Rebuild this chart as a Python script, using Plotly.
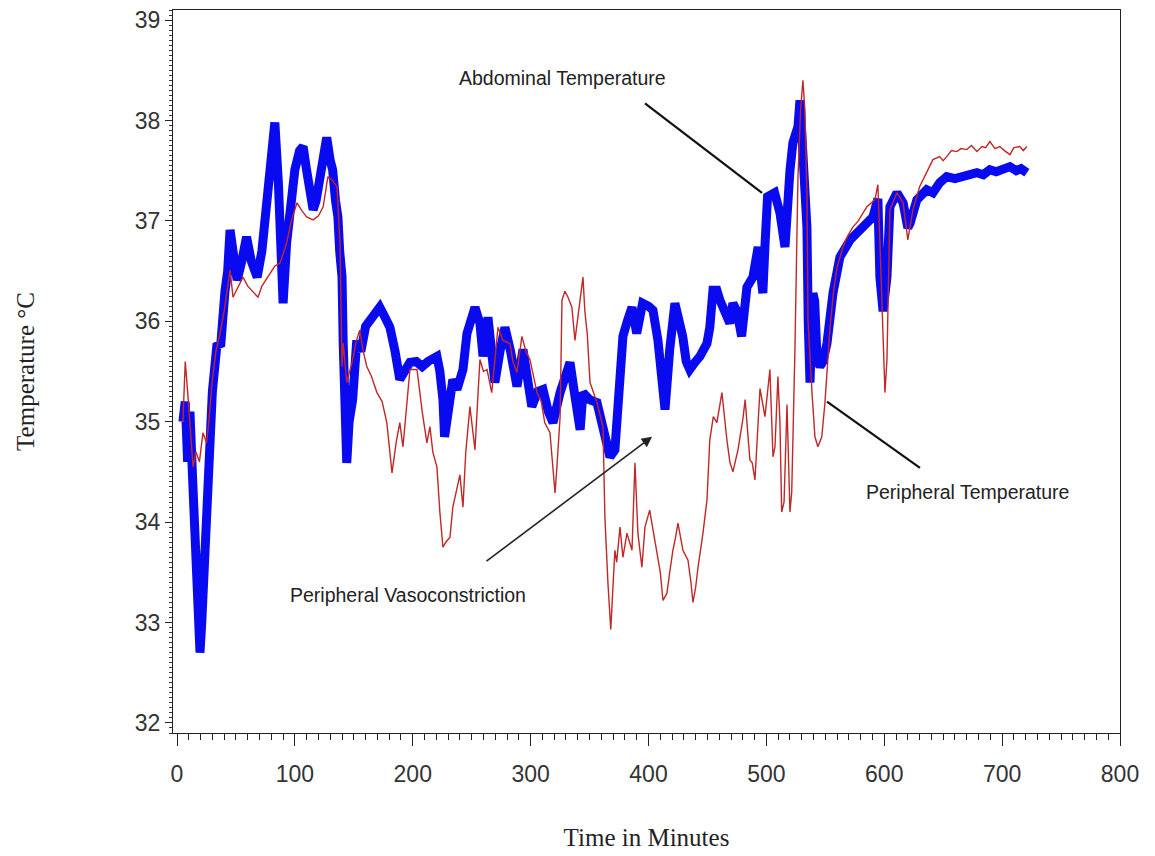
import plotly.graph_objects as go

# Abdominal temperature (thick blue)
abd_t = [5, 7, 9, 11, 13, 15, 17, 19.5, 21, 23, 25, 27, 30, 34, 37, 40.7, 43, 45, 48, 51, 55, 59, 63, 68, 72, 76, 80, 83, 86, 88, 90, 93, 97, 100, 104, 107, 110, 113, 115.5, 118, 121, 124, 127, 130, 132, 134.5, 136.5, 138, 140, 141, 142.5, 144, 146, 149, 152.5, 156, 160, 163.5, 168, 172, 176, 180.6, 185, 189, 193, 197.6, 203, 208, 213, 218, 220.5, 223, 225.6, 227, 230, 234, 237.5, 242.6, 246, 249, 252.8, 257, 259.6, 263.8, 266, 269.7, 274, 278.2, 283, 288.4, 293.5, 297, 301, 306, 310.5, 315, 319, 325, 329, 333.4, 337, 342, 344.4, 350, 356.3, 360, 364, 367.3, 371.5, 375.8, 378.3, 382, 386, 390, 395, 400, 403.8, 408, 411, 414, 418, 422.4, 426, 429, 432, 435, 440, 443.6, 449.6, 452, 454.7, 458, 460.6, 466.5, 469, 471.6, 475, 479, 483.5, 488.6, 493, 495, 497, 499, 501, 507, 511.5, 515.8, 518, 520, 522.5, 526.8, 528.5, 530, 531, 534.4, 535.5, 537, 539.5, 541, 543, 545.5, 548, 551.4, 556.5, 562.4, 571, 582, 590.4, 594.6, 596.3, 599, 600.6, 602.3, 604.8, 610.8, 616, 620, 622, 627.7, 636, 641.3, 647, 653, 660, 670, 678.6, 684, 689.6, 695, 700.7, 706.6, 712, 716, 721]
abd_v = [35.0, 35.2, 34.6, 35.1, 34.5, 34.0, 33.2, 32.7, 33.0, 33.6, 34.0, 34.6, 35.3, 35.78, 35.75, 36.3, 36.5, 36.91, 36.6, 36.41, 36.6, 36.84, 36.6, 36.44, 36.7, 37.11, 37.6, 37.98, 37.38, 36.6, 36.18, 36.78, 37.3, 37.51, 37.7, 37.74, 37.5, 37.31, 37.11, 37.2, 37.44, 37.6, 37.83, 37.6, 37.51, 37.2, 37.04, 36.7, 36.44, 35.78, 35.3, 34.59, 35.0, 35.22, 35.81, 35.7, 35.95, 36.01, 36.1, 36.14, 36.05, 35.94, 35.7, 35.42, 35.5, 35.59, 35.6, 35.55, 35.6, 35.62, 35.65, 35.5, 35.22, 34.85, 35.1, 35.42, 35.32, 35.52, 35.88, 36.0, 36.14, 35.98, 35.65, 36.04, 35.8, 35.39, 35.7, 35.94, 35.7, 35.35, 35.72, 35.4, 35.15, 35.3, 35.32, 35.1, 34.99, 35.29, 35.45, 35.59, 35.3, 34.92, 35.29, 35.22, 35.19, 35.0, 34.8, 34.65, 34.72, 35.39, 35.85, 36.0, 36.14, 35.88, 36.18, 36.15, 36.11, 35.81, 35.4, 35.12, 35.72, 36.18, 36.0, 35.85, 35.6, 35.52, 35.6, 35.65, 35.78, 35.94, 36.31, 36.31, 36.21, 36.04, 35.98, 36.18, 36.1, 35.85, 36.34, 36.44, 36.74, 36.5, 36.28, 36.8, 37.24, 37.28, 37.08, 36.74, 37.28, 37.5, 37.78, 37.94, 38.2, 37.9, 37.54, 36.94, 36.0, 35.39, 36.28, 36.2, 35.62, 35.55, 35.6, 35.78, 36.28, 36.64, 36.81, 36.94, 37.04, 37.22, 36.44, 36.1, 36.3, 36.44, 37.14, 37.28, 37.18, 36.93, 36.98, 37.21, 37.31, 37.28, 37.38, 37.44, 37.42, 37.44, 37.48, 37.46, 37.51, 37.49, 37.51, 37.54, 37.5, 37.52, 37.48]

# Peripheral temperature (thin red)
per_t = [5, 7, 9, 11, 13.6, 16, 19, 22, 25, 27, 29.7, 33, 36.5, 40, 45, 47.5, 52, 56, 60, 64, 68.7, 72, 79, 83, 87.4, 93, 97, 101.8, 106, 110, 115.5, 120, 124, 128, 132, 135.7, 138.3, 140, 141, 144, 148.5, 152, 155, 158, 161, 165, 169.6, 174, 178, 182.4, 186, 189, 191.7, 195, 197.6, 203.6, 208, 212, 214.6, 217, 220.5, 223, 225.6, 228, 231.6, 234, 237, 240, 242.6, 245, 248.5, 252.8, 255, 257, 260, 263, 267, 270, 272.3, 276.5, 282.5, 285, 288.4, 292.6, 296, 299.4, 305.4, 309, 312, 316.4, 318.5, 320.7, 322.3, 325, 326.6, 329, 331.7, 335, 337.6, 342, 344.4, 346, 348, 350.4, 353, 356.3, 361.4, 363, 365.6, 368, 370, 371.5, 373, 375.8, 378.3, 381.7, 384, 386, 388.5, 391, 394.4, 397, 401, 404, 407, 410, 412.3, 415.6, 418, 420.7, 423, 425, 429.2, 433.5, 436, 437.7, 440, 442, 446.2, 449.6, 452, 455, 458, 460, 462.3, 466.5, 469, 471.6, 475.9, 480, 482, 486, 488, 490.3, 494.6, 498.8, 501, 503, 505.6, 507.3, 509.8, 511.5, 513, 515, 517.5, 519, 520, 521.5, 524.2, 526.8, 529, 531, 532.7, 534.4, 535.3, 538.7, 541.2, 543.7, 547, 549.7, 552, 554, 557, 560, 565, 569, 573.5, 578, 582, 585.3, 592, 594.6, 596, 598, 600.6, 602.3, 603.5, 604.8, 610.8, 616, 620, 624.3, 630, 636, 641.3, 647, 650, 653, 657, 661.6, 665, 670, 674, 678.6, 683, 686, 689.6, 694, 698, 702, 706.6, 710, 715, 718, 721]
per_v = [35.0, 35.6, 35.3, 35.0, 34.55, 34.7, 34.6, 34.89, 34.79, 35.0, 35.39, 35.7, 35.88, 36.1, 36.51, 36.24, 36.35, 36.44, 36.35, 36.3, 36.24, 36.35, 36.48, 36.55, 36.58, 36.78, 37.0, 37.18, 37.1, 37.04, 37.01, 37.05, 37.14, 37.44, 37.4, 37.34, 36.78, 35.55, 35.78, 35.39, 35.59, 35.8, 35.91, 35.7, 35.55, 35.45, 35.29, 35.2, 34.99, 34.49, 34.8, 34.99, 34.75, 35.2, 35.52, 35.52, 35.1, 34.79, 34.95, 34.7, 34.55, 34.1, 33.75, 33.8, 33.85, 34.15, 34.3, 34.47, 34.15, 34.7, 35.15, 34.72, 35.2, 35.62, 35.5, 35.52, 35.29, 35.7, 35.94, 35.81, 35.78, 35.6, 35.49, 35.85, 35.7, 35.62, 35.29, 35.2, 34.99, 34.89, 34.6, 34.29, 34.55, 35.05, 36.21, 36.3, 36.24, 36.14, 35.81, 36.21, 36.44, 36.1, 35.88, 35.39, 35.3, 35.19, 34.95, 34.05, 33.39, 32.93, 33.39, 33.72, 33.6, 33.95, 33.65, 33.89, 33.8, 33.72, 34.59, 33.89, 33.55, 33.95, 34.12, 33.9, 33.72, 33.5, 33.22, 33.29, 33.5, 33.72, 33.85, 33.99, 33.72, 33.62, 33.4, 33.2, 33.35, 33.55, 33.89, 34.22, 34.82, 35.05, 34.99, 35.15, 35.29, 34.82, 34.6, 34.5, 34.72, 35.02, 35.22, 34.62, 34.59, 34.42, 35.33, 35.05, 35.3, 35.52, 34.65, 34.75, 35.45, 35.0, 34.1, 34.2, 35.17, 34.6, 34.1, 34.3, 35.7, 37.44, 38.1, 38.4, 38.1, 37.28, 36.01, 35.29, 34.85, 34.75, 34.85, 35.19, 35.6, 35.94, 36.3, 36.54, 36.74, 36.85, 36.94, 37.0, 37.08, 37.14, 37.21, 37.36, 36.9, 36.28, 35.29, 35.62, 36.5, 37.11, 37.28, 37.18, 36.81, 37.11, 37.34, 37.48, 37.61, 37.64, 37.6, 37.64, 37.7, 37.69, 37.72, 37.71, 37.75, 37.69, 37.74, 37.73, 37.79, 37.72, 37.74, 37.7, 37.66, 37.73, 37.74, 37.7, 37.74]

x_title = "Time in Minutes"
y_title = "Temperature °C"
x_ticks = [0, 100, 200, 300, 400, 500, 600, 700, 800]
y_ticks = [32, 33, 34, 35, 36, 37, 38, 39]

fig = go.Figure()
fig.add_trace(go.Scatter(x=abd_t, y=abd_v, mode="lines",
                         line=dict(color="#0a0af0", width=9), name="Abdominal Temperature"))
fig.add_trace(go.Scatter(x=per_t, y=per_v, mode="lines",
                         line=dict(color="#c02828", width=1.4), name="Peripheral Temperature"))

ann_font = dict(family="Liberation Sans", size=19.5, color="#222222")
fig.add_annotation(x=327, y=38.42, text="Abdominal Temperature", showarrow=False, font=ann_font)
fig.add_annotation(x=671, y=34.30, text="Peripheral Temperature", showarrow=False, font=ann_font)
fig.add_annotation(x=196, y=33.27, text="Peripheral Vasoconstriction", showarrow=False, font=ann_font)

fig.add_shape(type="line", x0=397, y0=38.17, x1=496.3, y1=37.28,
              line=dict(color="#111111", width=2.2))
fig.add_shape(type="line", x0=551.4, y0=35.20, x1=630.3, y1=34.54,
              line=dict(color="#111111", width=2.2))
fig.add_annotation(x=403, y=34.85, ax=261.3, ay=33.60, axref="x", ayref="y",
                   text="", showarrow=True, arrowhead=2, arrowsize=1.3,
                   arrowwidth=1.6, arrowcolor="#222222")

tick_font = dict(family="Liberation Sans", size=23, color="#333333")
title_font = dict(family="Liberation Serif", size=25, color="#222222")

fig.update_xaxes(range=[-3.4, 800], tickvals=x_ticks, ticks="outside", ticklen=12,
                 tickwidth=1.2, tickcolor="#222", showline=True, linecolor="#222",
                 linewidth=1.2, mirror=True, showgrid=False, zeroline=False,
                 tickfont=tick_font, automargin=False, ticklabelstandoff=8,
                 ticklabeloverflow="allow",
                 minor=dict(dtick=10, ticks="outside", ticklen=6, tickcolor="#222", showgrid=False),
                 title=dict(text=x_title, font=title_font, standoff=42))
fig.update_yaxes(range=[31.9, 39.1], tickvals=y_ticks, ticks="outside", ticklen=7,
                 tickwidth=1.2, tickcolor="#222", showline=True, linecolor="#222",
                 linewidth=1.2, mirror=True, showgrid=False, zeroline=False,
                 tickfont=tick_font, automargin=False, ticklabeloverflow="allow",
                 minor=dict(dtick=0.05, ticks="outside", ticklen=3, tickcolor="#333", showgrid=False),
                 title=dict(text=y_title, font=title_font, standoff=92))

fig.update_layout(width=1147, height=848, showlegend=False,
                  plot_bgcolor="white", paper_bgcolor="white",
                  margin=dict(l=165, r=35, t=2, b=123))

fig.write_html("out.html")
